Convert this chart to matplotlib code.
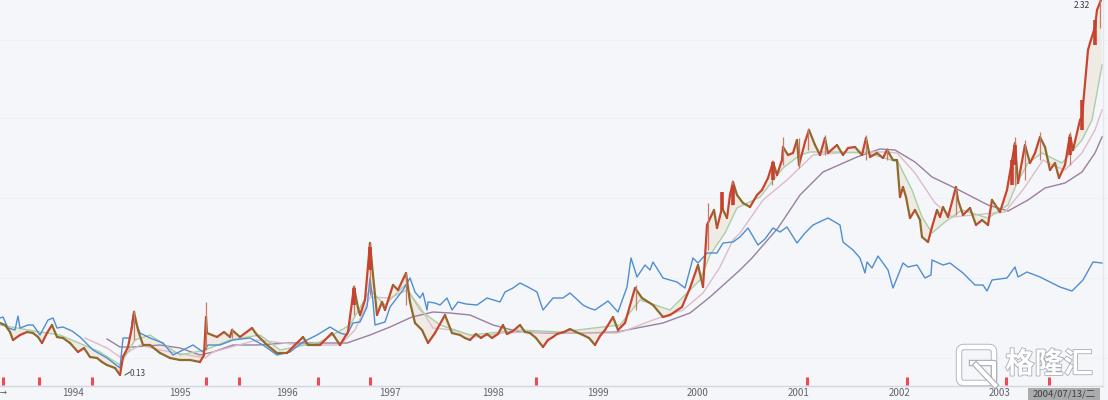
import matplotlib
matplotlib.use('Agg')
import matplotlib.pyplot as plt
import matplotlib.patheffects as pe
from matplotlib.patches import FancyBboxPatch, Rectangle

plt.rcParams['font.family'] = ['Noto Sans CJK SC', 'DejaVu Sans']

# x is the bar position on the time axis, y the height on the (unlabelled) price scale
price_x = [0, 5, 10, 13, 20, 27, 33, 38, 42, 47, 52, 57, 63, 70, 78, 84, 90, 97, 102, 107, 115, 120, 123, 128, 132, 134, 138, 143,
           150, 160, 170, 180, 190, 200, 204, 206, 207, 217, 224, 230, 232, 240, 252, 257, 267, 277, 287, 293, 303, 308, 320,
           332, 340, 348, 354, 358, 360, 365, 370, 373, 377, 382, 385, 393, 398, 406, 410, 415, 422, 428, 435, 445, 452, 460,
           465, 470, 476, 481, 487, 492, 498, 503, 507, 513, 520, 525, 530, 536, 543, 548, 553, 557, 564, 570, 576, 583, 589,
           595, 600, 605, 613, 618, 625, 635, 642, 653, 663, 670, 682, 690, 698,
           703, 705, 707, 714, 717, 722, 727, 730, 733, 737, 743, 750, 757, 762, 768, 773, 777, 782, 783, 788, 793, 797, 799,
           805, 809, 815, 820, 825, 828, 837, 843, 848, 855, 862, 866, 870, 877, 883, 887, 893, 897, 900, 903, 906, 910, 915,
           920, 922, 928, 932, 937, 940, 943, 948, 956, 958, 963, 970, 976, 982, 988, 992, 1000, 1007, 1015, 1018, 1025, 1030,
           1035, 1040, 1045, 1050, 1055, 1059, 1065, 1070, 1073, 1080, 1082, 1088, 1090, 1095, 1097, 1101]
price_y = [77, 75, 68, 60, 65, 68, 67, 63, 57, 67, 75, 63, 62, 57, 48, 52, 43, 42, 38, 35, 32, 25, 43, 53, 73, 88, 70, 55,
           55, 47, 42, 40, 40, 38, 45, 83, 67, 63, 68, 63, 70, 63, 72, 65, 55, 47, 47, 53, 63, 55, 55,
           67, 55, 68, 113, 92, 85, 100, 157, 125, 85, 98, 90, 115, 110, 127, 98, 77, 70, 57, 67, 85, 67, 65,
           62, 60, 66, 62, 66, 62, 66, 75, 66, 69, 75, 68, 67, 62, 53, 60, 63, 66, 68, 71, 68, 65, 62,
           55, 64, 70, 83, 70, 77, 112, 102, 95, 83, 85, 93, 112, 135,
           113, 143, 175, 190, 172, 192, 182, 205, 218, 205, 197, 193, 205, 210, 222, 238, 225, 240, 253, 245, 247, 260, 235,
           258, 270, 255, 245, 262, 247, 255, 245, 252, 253, 245, 262, 243, 247, 242, 250, 240, 240, 203, 213, 203, 182, 190,
           180, 163, 158, 173, 190, 183, 193, 183, 213, 200, 185, 192, 175, 180, 175, 200, 188, 210, 257, 217, 255, 237,
           247, 263, 253, 230, 237, 222, 235, 265, 250, 280, 283, 350, 357, 373, 390, 400]

blue_x = [0, 3, 8, 15, 18, 20, 28, 33, 40, 48, 53, 57, 63, 72, 80, 93, 107, 120, 123, 130, 133, 140, 150, 163, 173, 183, 193,
          203, 208, 220, 233, 250, 263, 277, 290, 303, 317, 330, 340, 347, 353, 360, 367, 370, 373, 375, 385, 390, 403, 410,
          415, 420, 423, 427, 428, 435, 440, 447, 452, 458, 466, 477, 487, 500, 505, 513, 520, 528, 537, 543, 553, 563, 570,
          583, 589, 595, 608, 618, 627, 631, 637, 645, 650,
          653, 663, 670, 677, 685, 693, 698, 707, 717, 723, 733, 740, 748, 758, 765, 773, 780, 787, 797, 805, 813, 828, 840,
          843, 848, 853, 860, 865,
          867, 872, 878, 888, 893, 903, 908, 917, 925, 931, 932, 943, 950, 963, 975, 983, 987, 992, 1007, 1015, 1018,
          1027, 1040, 1050, 1060, 1072, 1083, 1093, 1102]
blue_y = [82, 83, 72, 70, 84, 72, 75, 75, 65, 80, 82, 72, 73, 69, 63, 50, 42, 32, 62, 62, 85, 67, 62, 57, 45, 50, 55,
          48, 55, 55, 60, 62, 55, 45, 48, 58, 65, 73, 67, 65, 77, 78, 93, 122, 98, 75, 78, 93, 110, 122,
          108, 102, 107, 90, 98, 97, 95, 102, 90, 98, 96, 95, 102, 98, 108, 112, 117, 113, 108, 90, 102, 102, 107,
          95, 92, 90, 99, 88, 113, 142, 123, 135, 130,
          138, 122, 120, 118, 112, 142, 137, 147, 147, 157, 158, 163, 172, 155, 161, 172, 168, 173, 157, 167, 175, 182, 175,
          158, 154, 150, 142, 127,
          138, 132, 144, 130, 112, 137, 133, 135, 122, 125, 140, 135, 137, 127, 115, 115, 109, 120, 122, 133, 123,
          128, 123, 118, 113, 109, 120, 138, 137]

long_x = [107, 120, 133, 160, 180, 200, 213, 233, 257, 287, 320, 347, 370, 390, 412, 433, 450, 470, 493, 520, 550, 583,
          617, 637, 663, 690, 710, 740, 752, 778, 800, 823, 857, 880, 895, 915, 932, 955, 988, 1008, 1028, 1045, 1065, 1082,
          1095, 1102]
long_y = [61, 53, 53, 55, 52, 45, 48, 55, 55, 57, 57, 57, 65, 73, 83, 88, 87, 85, 75, 68, 67, 67,
          68, 72, 77, 87, 103, 130, 142, 172, 205, 228, 243, 251, 250, 238, 223, 212, 195, 189, 200, 212, 217, 228,
          247, 263]

mid_x = [85, 107, 120, 140, 160, 205, 213, 257, 300, 340, 355, 370, 390, 407, 420, 433, 453, 477, 503, 530, 557, 583, 617,
         627, 653, 683, 703, 720, 733, 740, 763, 787, 813, 837, 867, 887, 897, 915, 935, 952, 1005, 1025, 1043, 1052, 1065,
         1082, 1095, 1102]
mid_y = [62, 52, 43, 55, 50, 42, 48, 60, 55, 55, 70, 103, 102, 110, 93, 72, 70, 63, 67, 68, 67, 67, 67,
         70, 80, 90, 107, 133, 160, 167, 200, 220, 245, 247, 248, 248, 247, 227, 197, 183, 188, 213, 240, 235, 230,
         247, 270, 290]

short_x = [0, 40, 60, 100, 120, 135, 150, 180, 205, 230, 260, 280, 320, 350, 370, 385, 405, 420, 440, 470, 520, 560, 620,
           640, 670, 700, 710, 725, 737, 760, 783, 800, 810, 837, 867, 898, 912, 922, 932, 945, 962, 988, 1008, 1017,
           1028, 1042, 1062, 1082, 1092, 1102]
short_y = [75, 68, 65, 48, 35, 60, 65, 45, 50, 60, 65, 50, 58, 75, 110, 95, 115, 90, 75, 65, 70, 68, 75,
           100, 90, 120, 145, 167, 192, 203, 232, 245, 248, 248, 247, 238, 210, 183, 167, 178, 190, 182, 195, 217,
           237, 247, 237, 260, 280, 335]

# wicks of single bars, bottom and top
spike_x = [134, 206, 232, 354, 370, 406, 636, 708, 732, 772, 783, 799, 808, 825, 866, 887, 956, 1015, 1025, 1040, 1070, 1100]
spike_low = [60, 50, 62, 85, 105, 95, 90, 150, 195, 215, 235, 232, 250, 245, 240, 240, 185, 215, 220, 240, 235, 372]
spike_high = [90, 98, 72, 115, 157, 128, 115, 197, 220, 240, 263, 262, 272, 265, 265, 252, 213, 263, 260, 268, 268, 400]

# the widest candle bodies
body_x = [354, 370, 722, 733, 773, 1012, 1015, 1070, 1082, 1095]
body_low = [95, 130, 190, 195, 220, 215, 235, 245, 270, 355]
body_high = [112, 153, 208, 215, 238, 240, 255, 263, 300, 380]

signal_x = [3, 39, 92, 206, 239, 318, 370, 536, 807, 907, 1006, 1049]
year_labels = ['1994', '1995', '1996', '1997', '1998', '1999', '2000', '2001', '2002', '2003']
year_pos = [73, 180, 287, 390, 493, 598, 698, 799, 900, 1000]
grid_levels = [42, 122, 202, 282, 360]

fig = plt.figure(figsize=(11.08, 4.0), dpi=100, facecolor='#f5f6fa')
ax = fig.add_axes([0, 0, 1, 1])
ax.set_xlim(0, 1108)
ax.set_ylim(0, 400)
ax.axis('off')

for g in grid_levels:
    ax.axhline(g, color='#f0f1f5', lw=0.7, zorder=1)
ax.plot([1103, 1103], [14, 400], color='#e6e8ed', lw=1, zorder=1)

# pale band between the price and its short average
ax.fill(price_x + short_x[::-1], price_y + short_y[::-1], color='#ebe4d6', alpha=0.6, lw=0, zorder=2)

ax.plot(long_x, long_y, color='#9a7f9f', lw=1.0, zorder=3)
ax.plot(mid_x, mid_y, color='#dcbcc8', lw=1.0, zorder=3)
ax.plot(short_x, short_y, color='#a8cfa6', lw=1.0, zorder=3)
ax.plot(blue_x, blue_y, color='#4f8ed0', lw=1.0, zorder=4)

# up moves red, down moves dark olive
for i in range(len(price_x) - 1):
    c = '#c8452f' if price_y[i + 1] > price_y[i] else '#8f6a2c'
    ax.plot(price_x[i:i + 2], price_y[i:i + 2], color=c, lw=1.6, solid_capstyle='round', zorder=5)
ax.vlines(spike_x, spike_low, spike_high, color='#c9796a', lw=0.9, zorder=5)
ax.vlines(body_x, body_low, body_high, color='#c8402e', lw=2.6, zorder=5)

ax.plot([0, 1103], [14, 14], color='#d5d7dc', lw=1, zorder=3)
ax.vlines(signal_x, 15, 23, color='#ee4b52', lw=2.2, zorder=6)

for lab, p in zip(year_labels, year_pos):
    ax.text(p, 7, lab, ha='center', va='center', fontsize=7, color='#5f6368')
ax.text(3, 7, '\u2192', ha='center', va='center', fontsize=5, color='#444444')

ax.add_patch(Rectangle((1028, 0), 72, 12, color='#a9abad', lw=0, zorder=6))
ax.text(1064, 6, '2004/07/13/二', ha='center', va='center', fontsize=6.8, color='#3c3c3c', zorder=7)

ax.text(138, 27, '0.13', ha='center', va='center', fontsize=6, color='#444444')
ax.plot([125, 130], [25, 28], color='#444444', lw=0.7)
ax.text(1082, 394, '2.32', ha='center', va='center', fontsize=6, color='#333344')

# watermark
halo = [pe.withStroke(linewidth=4.6, foreground='#a9acb3')]
ax.add_patch(FancyBboxPatch((959, 17), 35, 36, boxstyle='round,pad=0,rounding_size=5', fill=False, ec='#ffffff',
                            lw=3.4, path_effects=halo, zorder=8))
ax.plot([972, 994, 994], [37, 37, 20], color='#ffffff', lw=3, path_effects=halo, zorder=8)
ax.plot([976, 995], [35, 15], color='#ffffff', lw=3, path_effects=halo, zorder=8)
ax.text(1049, 36, '格隆汇', ha='center', va='center', fontsize=21, color='#ffffff', fontweight='bold',
        path_effects=[pe.withStroke(linewidth=1.2, foreground='#a9acb3')], zorder=8)

fig.savefig('out.png', dpi=100, facecolor=fig.get_facecolor())
